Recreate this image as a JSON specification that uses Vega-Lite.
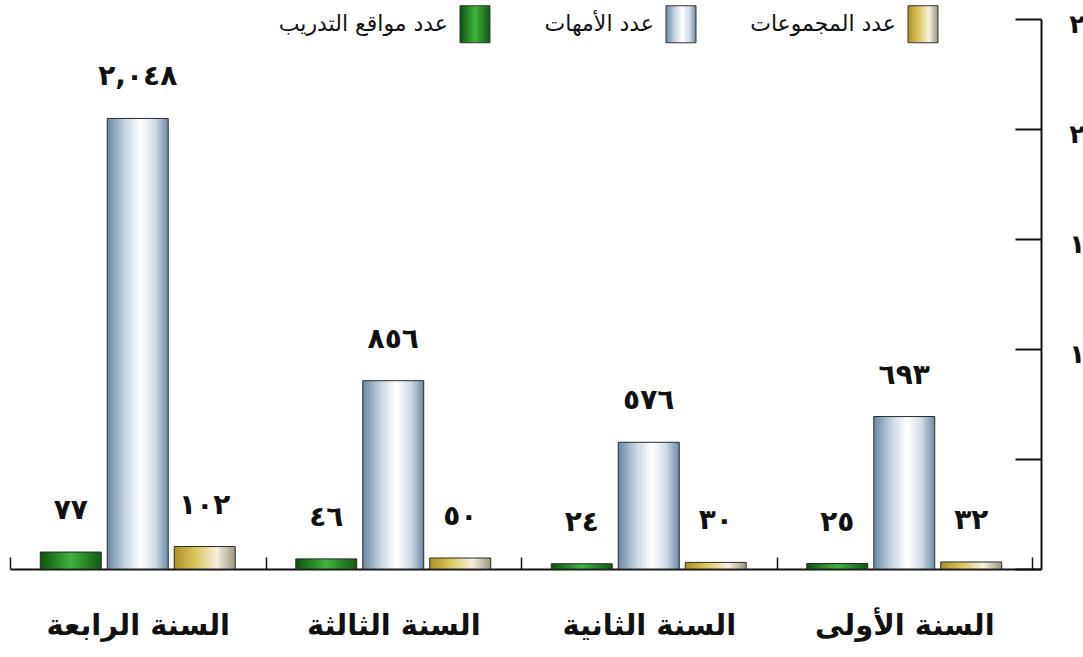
{
  "$schema": "https://vega.github.io/schema/vega-lite/v6.json",
  "width": 1031,
  "height": 550,
  "autosize": {"type": "none"},
  "padding": {"left": 10, "top": 19, "right": 42, "bottom": 88},
  "background": "white",
  "config": {
    "view": {"stroke": null},
    "font": "DejaVu Sans",
    "locale": {"number": {"decimal": ".", "thousands": ",", "grouping": [3], "currency": ["", ""], "numerals": ["٠","١","٢","٣","٤","٥","٦","٧","٨","٩"]}}
  },
  "data": {"values": [
    {"year": "السنة الأولى", "series": "عدد مواقع التدريب", "value": 25},
    {"year": "السنة الأولى", "series": "عدد الأمهات", "value": 693},
    {"year": "السنة الأولى", "series": "عدد المجموعات", "value": 32},
    {"year": "السنة الثانية", "series": "عدد مواقع التدريب", "value": 24},
    {"year": "السنة الثانية", "series": "عدد الأمهات", "value": 576},
    {"year": "السنة الثانية", "series": "عدد المجموعات", "value": 30},
    {"year": "السنة الثالثة", "series": "عدد مواقع التدريب", "value": 46},
    {"year": "السنة الثالثة", "series": "عدد الأمهات", "value": 856},
    {"year": "السنة الثالثة", "series": "عدد المجموعات", "value": 50},
    {"year": "السنة الرابعة", "series": "عدد مواقع التدريب", "value": 77},
    {"year": "السنة الرابعة", "series": "عدد الأمهات", "value": 2048},
    {"year": "السنة الرابعة", "series": "عدد المجموعات", "value": 102}
  ]},
  "encoding": {
    "x": {
      "field": "year", "type": "nominal",
      "sort": ["السنة الرابعة", "السنة الثالثة", "السنة الثانية", "السنة الأولى"],
      "scale": {"paddingInner": 0, "paddingOuter": 0.0176, "align": 0},
      "axis": {
        "title": null, "orient": "bottom",
        "domainColor": "#111", "domainWidth": 2,
        "ticks": true, "tickBand": "extent", "tickSize": -12, "tickColor": "#111", "tickWidth": 1.5,
        "labelFontSize": 29, "labelFontWeight": "bold", "labelColor": "#111", "labelLimit": 0,
        "labelPadding": 54, "labelBaseline": "top", "labelAngle": 0
      }
    },
    "xOffset": {
      "field": "series", "type": "nominal",
      "sort": ["عدد مواقع التدريب", "عدد الأمهات", "عدد المجموعات"],
      "scale": {"paddingInner": 0.09, "paddingOuter": 0.452}
    },
    "y": {
      "field": "value", "type": "quantitative",
      "scale": {"domain": [0, 2500], "nice": false},
      "axis": {
        "title": null, "orient": "right", "grid": false,
        "values": [0, 500, 1000, 1500, 2000, 2500],
        "format": ",d",
        "domainColor": "#111", "domainWidth": 2,
        "tickSize": -26, "tickColor": "#111", "tickWidth": 2,
        "labelFontSize": 26, "labelFontWeight": "bold", "labelColor": "#111",
        "labelAlign": "right", "labelBaseline": "middle", "labelPadding": 127, "labelOffset": 5
      }
    }
  },
  "layer": [
    {
      "mark": {"type": "bar", "stroke": "#2a2a2a", "strokeWidth": 1},
      "encoding": {
        "color": {
          "field": "series", "type": "nominal",
          "scale": {
            "domain": ["عدد مواقع التدريب", "عدد الأمهات", "عدد المجموعات"],
            "range": [
              {"expr": "{gradient: 'linear', x1: 0, y1: 0, x2: 1, y2: 0, stops: [{offset: 0, color: '#0d5210'}, {offset: 0.5, color: '#3fb53a'}, {offset: 1, color: '#115a14'}]}"},
              {"expr": "{gradient: 'linear', x1: 0, y1: 0, x2: 1, y2: 0, stops: [{offset: 0, color: '#6a88a3'}, {offset: 0.3, color: '#c9d6e2'}, {offset: 0.55, color: '#ffffff'}, {offset: 0.78, color: '#d2dde7'}, {offset: 1, color: '#6c8aa4'}]}"},
              {"expr": "{gradient: 'linear', x1: 0, y1: 0, x2: 1, y2: 0, stops: [{offset: 0, color: '#ad9022'}, {offset: 0.35, color: '#dcc65e'}, {offset: 0.7, color: '#f5f1e0'}, {offset: 1, color: '#9c9580'}]}"}
            ]
          },
          "legend": {
            "title": null, "orient": "none", "legendX": 446, "legendY": -14,
            "direction": "horizontal",
            "symbolType": "M-0.81,-1H0.81V1H-0.81Z", "symbolSize": 1369,
            "symbolStrokeColor": "#333", "symbolStrokeWidth": 1,
            "labelAlign": "right", "labelOffset": -46, "labelFontSize": 22,
            "labelColor": "#111", "labelLimit": 0, "columnPadding": 52
          }
        }
      }
    },
    {
      "mark": {"type": "text", "fontSize": 28, "fontWeight": "bold", "color": "#111", "baseline": "alphabetic", "dy": -33},
      "encoding": {
        "text": {"field": "value", "type": "quantitative", "format": ",d"}
      }
    }
  ]
}
